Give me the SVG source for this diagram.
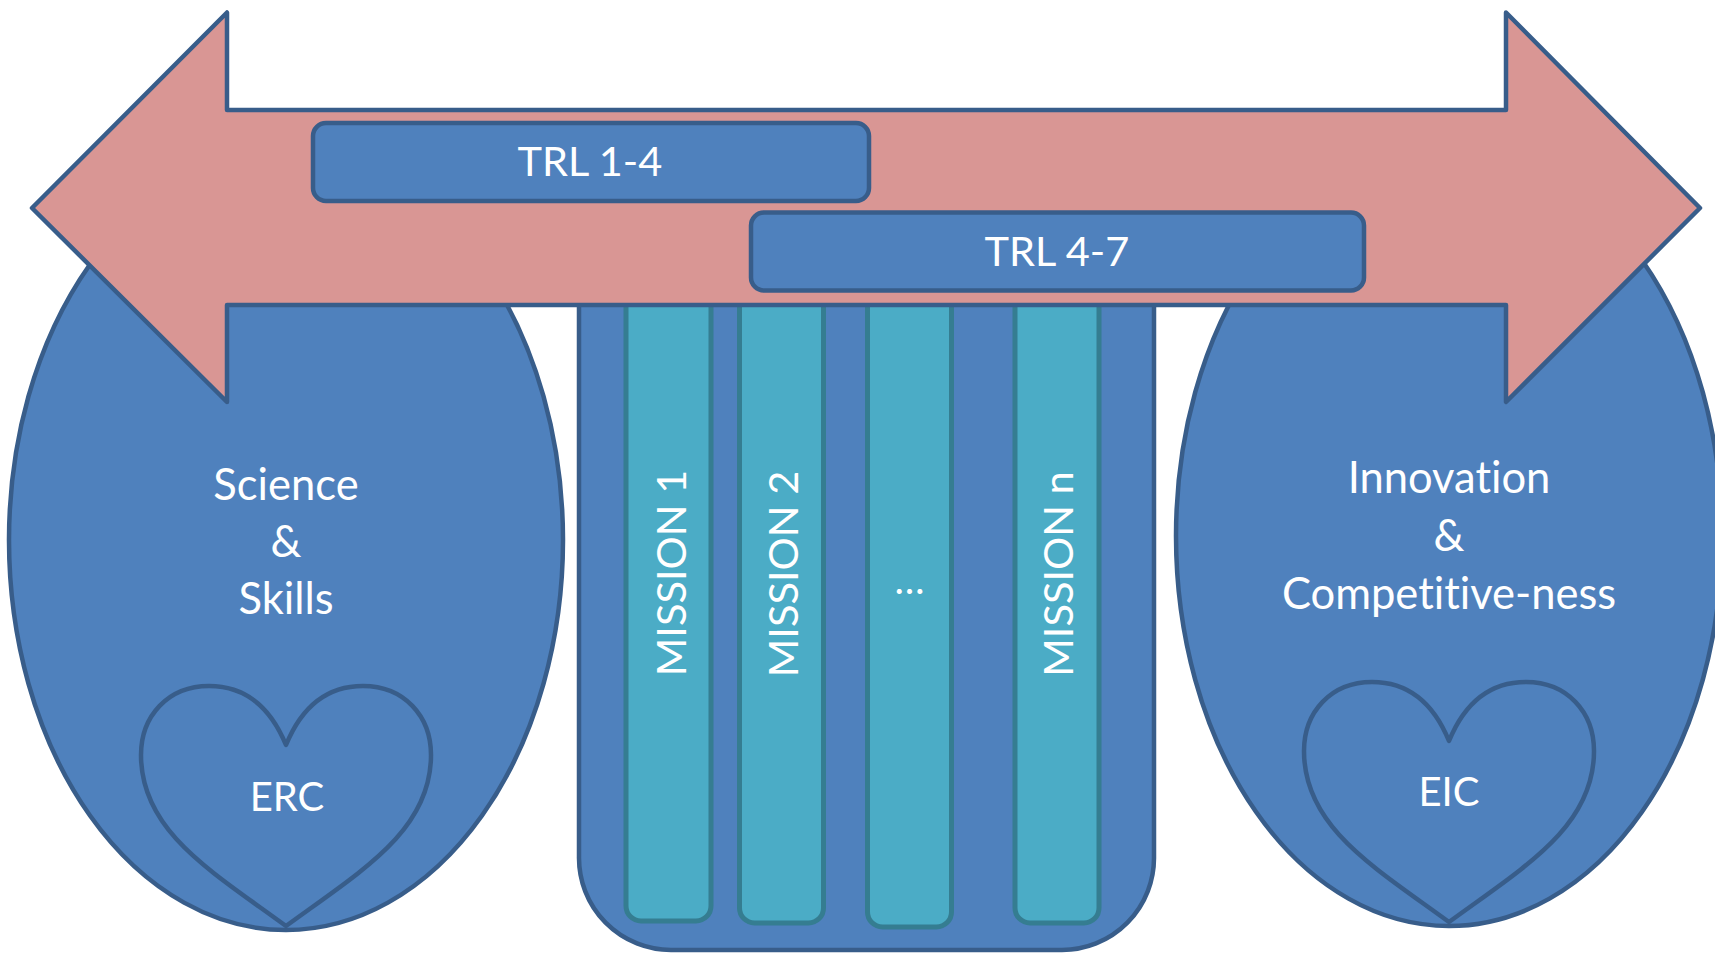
<svg xmlns="http://www.w3.org/2000/svg" width="1715" height="954" viewBox="0 0 1715 954">
<style>
.blue{fill:#4f81bd;stroke:#385d8a;stroke-width:4.5;stroke-linejoin:round}
.teal{fill:#4bacc6;stroke:#357d91;stroke-width:5}
.arrow{fill:#d99694;stroke:#385d8a;stroke-width:4.5;stroke-linejoin:round}
.heart{fill:none;stroke:#385d8a;stroke-width:4.5;stroke-linejoin:round}
.t{fill:#ffffff;font-family:Lato,"Liberation Sans",sans-serif;font-size:40px;text-anchor:middle;font-variant-ligatures:none}
.tb{font-size:43.5px}
.tm{font-size:41.5px}
</style>
<defs>
<path id="heartShape" d="M0,59 C-16,20 -42,0 -77,0 C-118,0 -145,30 -145,69 C-145,145 -75,185 0,240 C75,185 145,145 145,69 C145,30 118,0 77,0 C42,0 16,20 0,59 Z"/>
</defs>
<rect width="1715" height="954" fill="#ffffff"/>

<g id="science">
<ellipse class="blue" cx="286" cy="540" rx="277" ry="390"/>
<use href="#heartShape" class="heart" transform="translate(286,686)"/>
<text class="t tb" x="286" y="500">Science</text>
<text class="t tb" x="286" y="557">&amp;</text>
<text class="t tb" x="286" y="614">Skills</text>
<text class="t" x="287" y="811">ERC</text>
</g>

<g id="innovation">
<ellipse class="blue" cx="1449" cy="536" rx="273" ry="390"/>
<use href="#heartShape" class="heart" transform="translate(1449,682)"/>
<text class="t tb" x="1449" y="493">Innovation</text>
<text class="t tb" x="1449" y="551">&amp;</text>
<text class="t tb" x="1449" y="609">Competitive-ness</text>
<text class="t" x="1449" y="806">EIC</text>
</g>

<g id="missions">
<path class="blue" d="M579,290 V857 A92,92 0 0 0 671,950 H1062 A92,92 0 0 0 1154,857 V290 Z"/>
<g id="mission1">
<rect class="teal" x="626" y="280" width="85" height="641" rx="15"/>
<text class="t tm" transform="translate(671,573) rotate(-90)" x="0" y="15">MISSION 1</text>
</g>
<g id="mission2">
<rect class="teal" x="739.5" y="280" width="84" height="643" rx="15"/>
<text class="t tm" transform="translate(783,574) rotate(-90)" x="0" y="15">MISSION 2</text>
</g>
<g id="missionDots">
<rect class="teal" x="867.5" y="280" width="84" height="647" rx="15"/>
<text class="t" x="909.5" y="594">…</text>
</g>
<g id="missionN">
<rect class="teal" x="1015" y="280" width="84" height="643" rx="15"/>
<text class="t tm" transform="translate(1058,574) rotate(-90)" x="0" y="15">MISSION n</text>
</g>
</g>

<g id="arrow">
<polygon class="arrow" points="32,208 227,12.5 227,110 1506,110 1506,12.5 1700,208 1506,402 1506,305 227,305 227,402"/>
</g>

<g id="trl14">
<rect class="blue" x="313" y="123" width="556" height="78" rx="13"/>
<text class="t tm" x="590" y="176">TRL 1-4</text>
</g>
<g id="trl47">
<rect class="blue" x="751" y="212.5" width="613" height="78" rx="13"/>
<text class="t tm" x="1057" y="266">TRL 4-7</text>
</g>
</svg>
